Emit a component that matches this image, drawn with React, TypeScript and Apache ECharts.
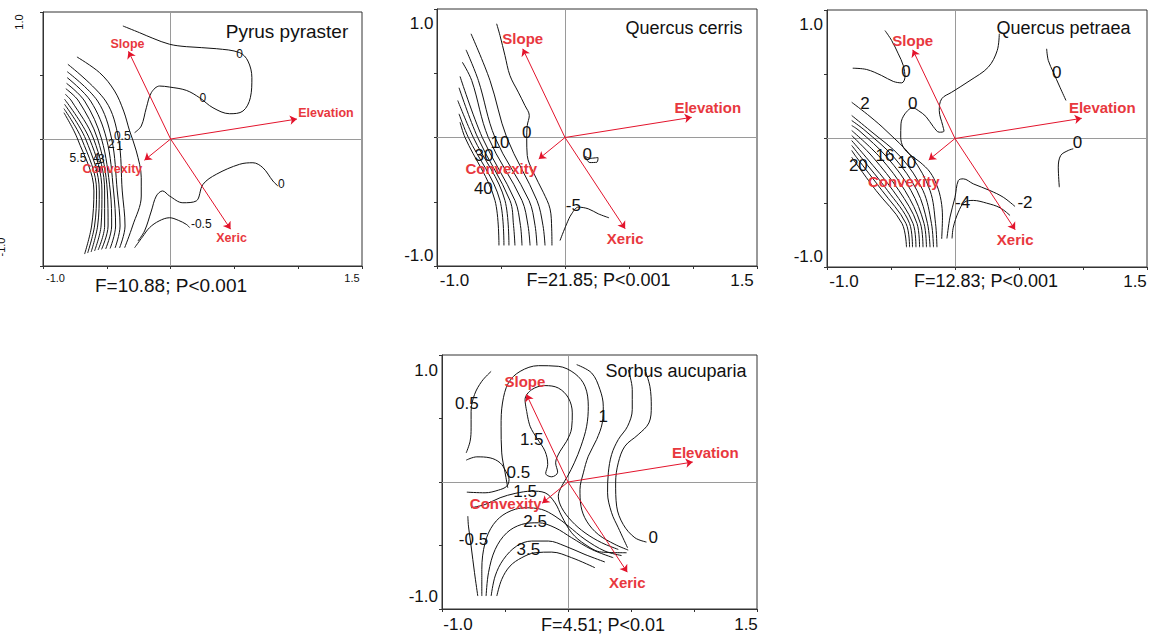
import React, { useEffect, useRef } from 'react';
import * as echarts from 'echarts';

type Pt = [number, number];
type Level = { text: string; x: number; y: number };

const FONT = '"Liberation Sans", Arial, Helvetica, sans-serif';
const X_MIN = -1.0;
const X_MAX = 1.5;
const Y_MIN = -1.0;
const Y_MAX = 1.0;
const TICK_STEP = 0.5;
const X_TICK_LABELS = ['-1.0', '1.5'];
const Y_TICK_LABELS = ['1.0', '-1.0'];

const ARROWS = [
  { name: 'Slope', x: -0.33, y: 0.69 },
  { name: 'Elevation', x: 0.99, y: 0.157 },
  { name: 'Convexity', x: -0.205, y: -0.167 },
  { name: 'Xeric', x: 0.47, y: -0.71 },
];

const SPECIES = ['Pyrus pyraster', 'Quercus cerris', 'Quercus petraea', 'Sorbus aucuparia'];
const STATS = ['F=10.88; P<0.001', 'F=21.85; P<0.001', 'F=12.83; P<0.001', 'F=4.51; P<0.01'];

// ---------- Pyrus pyraster ----------
const PYRUS_CONTOURS: Pt[][] = [
  [[-0.374, 0.89], [-0.243, 0.837], [-0.139, 0.793], [-0.008, 0.746], [0.123, 0.727], [0.358, 0.711], [0.541, 0.68], [0.606, 0.614], [0.637, 0.483], [0.625, 0.325], [0.567, 0.22], [0.462, 0.199], [0.332, 0.246], [0.227, 0.325], [0.123, 0.383], [-0.008, 0.409], [-0.086, 0.417], [-0.151, 0.365], [-0.19, 0.246], [-0.23, 0.102], [-0.282, 0.05]],
  [[-0.256, -0.803], [-0.204, -0.724], [-0.151, -0.567], [-0.112, -0.449], [-0.063, -0.409], [-0.008, -0.449], [0.096, -0.502], [0.201, -0.488], [0.254, -0.357], [0.358, -0.278], [0.541, -0.199], [0.645, -0.187], [0.723, -0.226], [0.802, -0.331], [0.841, -0.37]],
  [[-0.282, -0.856], [-0.22, -0.77], [-0.165, -0.698], [-0.09, -0.645], [-0.008, -0.62], [0.06, -0.64], [0.123, -0.672], [0.15, -0.698]],
  [[-0.734, 0.646], [-0.556, 0.522], [-0.439, 0.378], [-0.368, 0.22], [-0.321, 0.063], [-0.269, -0.094], [-0.23, -0.305], [-0.23, -0.449], [-0.298, -0.685], [-0.36, -0.856]],
  [[-0.805, 0.588], [-0.509, 0.299], [-0.408, 0], [-0.379, -0.409], [-0.357, -0.685], [-0.4, -0.858]],
  [[-0.81, 0.53], [-0.572, 0.299], [-0.462, 0], [-0.418, -0.409], [-0.396, -0.685], [-0.435, -0.858]],
  [[-0.81, 0.483], [-0.627, 0.299], [-0.502, 0], [-0.447, -0.409], [-0.431, -0.685], [-0.474, -0.862]],
  [[-0.815, 0.438], [-0.674, 0.299], [-0.541, 0], [-0.473, -0.409], [-0.462, -0.685], [-0.509, -0.866]],
  [[-0.821, 0.396], [-0.721, 0.299], [-0.572, 0], [-0.496, -0.409], [-0.49, -0.685], [-0.541, -0.869]],
  [[-0.825, 0.352], [-0.776, 0.299], [-0.603, 0], [-0.517, -0.409], [-0.517, -0.685], [-0.568, -0.874]],
  [[-0.831, 0.313], [-0.635, 0], [-0.538, -0.409], [-0.545, -0.685], [-0.596, -0.882]],
  [[-0.831, 0.273], [-0.666, 0], [-0.559, -0.409], [-0.572, -0.685], [-0.623, -0.89]],
  [[-0.836, 0.239], [-0.697, 0], [-0.58, -0.409], [-0.596, -0.685], [-0.65, -0.898]],
  [[-0.836, 0.207], [-0.729, 0], [-0.601, -0.409], [-0.619, -0.685], [-0.674, -0.906]],
];
const PYRUS_LEVELS: Level[] = [
  { text: '0', x: 0.541, y: 0.667 },
  { text: '0', x: 0.253, y: 0.32 },
  { text: '0', x: 0.867, y: -0.352 },
  { text: '-0.5', x: 0.24, y: -0.672 },
  { text: '0.5', x: -0.379, y: 0.024 },
  { text: '2', x: -0.465, y: -0.042 },
  { text: '1', x: -0.4, y: -0.055 },
  { text: '5.5', x: -0.726, y: -0.147 },
  { text: '4', x: -0.582, y: -0.147 },
  { text: '3', x: -0.543, y: -0.16 },
  { text: '5', x: -0.57, y: -0.226 },
];

// ---------- Quercus cerris ----------
const CERRIS_CONTOURS: Pt[][] = [
  [[-0.534, 0.885], [-0.508, 0.794], [-0.469, 0.638], [-0.43, 0.482], [-0.365, 0.353], [-0.313, 0.249], [-0.279, 0.171], [-0.295, 0.093], [-0.299, -0.01], [-0.295, -0.14], [-0.248, -0.27], [-0.17, -0.426], [-0.117, -0.555], [-0.104, -0.711], [-0.102, -0.84]],
  [[-0.734, 0.807], [-0.586, 0.444], [-0.455, 0], [-0.219, -0.49], [-0.172, -0.685], [-0.156, -0.84]],
  [[-0.773, 0.682], [-0.677, 0.444], [-0.547, 0], [-0.281, -0.49], [-0.234, -0.685], [-0.219, -0.84]],
  [[-0.802, 0.586], [-0.729, 0.444], [-0.599, 0], [-0.336, -0.49], [-0.289, -0.685], [-0.273, -0.84]],
  [[-0.82, 0.475], [-0.646, 0], [-0.391, -0.49], [-0.348, -0.685], [-0.336, -0.84]],
  [[-0.828, 0.387], [-0.682, 0], [-0.43, -0.49], [-0.402, -0.685], [-0.391, -0.84]],
  [[-0.838, 0.288], [-0.716, 0], [-0.469, -0.49], [-0.438, -0.84]],
  [[-0.828, 0.184], [-0.755, 0], [-0.508, -0.49], [-0.477, -0.84]],
  [[-0.82, 0.119], [-0.781, 0], [-0.547, -0.49], [-0.516, -0.84]],
  [[0.195, -0.163], [0.258, -0.156], [0.25, -0.192], [0.195, -0.195], [0.156, -0.148], [0.195, -0.163]],
  [[-0.039, -0.802], [0.013, -0.672], [0.052, -0.594], [0.104, -0.542], [0.182, -0.555], [0.26, -0.594], [0.344, -0.625]],
];
const CERRIS_LEVELS: Level[] = [
  { text: '0', x: -0.299, y: 0.041 },
  { text: '10', x: -0.508, y: -0.036 },
  { text: '30', x: -0.633, y: -0.14 },
  { text: '40', x: -0.638, y: -0.4 },
  { text: '0', x: 0.174, y: -0.132 },
  { text: '-5', x: 0.065, y: -0.529 },
];

// ---------- Quercus petraea ----------
const PETRAEA_CONTOURS: Pt[][] = [
  [[-0.799, 0.547], [-0.69, 0.537], [-0.573, 0.49], [-0.482, 0.444], [-0.416, 0.433], [-0.391, 0.477], [-0.404, 0.568], [-0.443, 0.659], [-0.495, 0.763], [-0.547, 0.84]],
  [[0.346, 0.815], [0.33, 0.685], [0.26, 0.555], [0.117, 0.451], [-0.026, 0.36], [-0.104, 0.309], [-0.123, 0.218], [-0.096, 0.101], [-0.086, 0.057], [-0.123, 0.049], [-0.17, 0.093], [-0.227, 0.171], [-0.287, 0.218], [-0.33, 0.239], [-0.391, 0.192], [-0.422, 0.114], [-0.424, 0.01], [-0.404, -0.068], [-0.352, -0.125], [-0.273, -0.184], [-0.195, -0.262], [-0.141, -0.366], [-0.109, -0.482], [-0.098, -0.612], [-0.104, -0.781]],
  [[0.716, 0.698], [0.729, 0.607], [0.768, 0.516], [0.82, 0.399], [0.867, 0.296]],
  [[0.815, -0.379], [0.807, -0.223], [0.826, -0.132], [0.885, -0.093], [0.924, -0.08]],
  [[-0.063, -0.778], [-0.039, -0.612], [0, -0.457], [0.026, -0.327], [0.065, -0.314], [0.143, -0.353], [0.273, -0.405], [0.377, -0.457], [0.469, -0.529]],
  [[-0.023, -0.778], [-0.013, -0.69], [0.026, -0.573], [0.073, -0.496], [0.143, -0.482], [0.247, -0.503], [0.352, -0.539], [0.43, -0.599]],
  [[-0.807, 0.282], [-0.664, 0.171], [-0.539, 0.062], [-0.336, -0.146], [-0.195, -0.405], [-0.152, -0.661], [-0.141, -0.846]],
  [[-0.807, 0.179], [-0.664, 0.062], [-0.422, -0.146], [-0.25, -0.405], [-0.184, -0.661], [-0.168, -0.846]],
  [[-0.807, 0.14], [-0.703, 0.062], [-0.477, -0.146], [-0.297, -0.405], [-0.215, -0.661], [-0.195, -0.846]],
  [[-0.807, 0.101], [-0.75, 0.062], [-0.531, -0.146], [-0.344, -0.405], [-0.242, -0.661], [-0.223, -0.846]],
  [[-0.807, 0.062], [-0.586, -0.146], [-0.391, -0.405], [-0.27, -0.661], [-0.25, -0.846]],
  [[-0.807, 0.023], [-0.641, -0.146], [-0.438, -0.405], [-0.297, -0.661], [-0.277, -0.846]],
  [[-0.807, -0.016], [-0.695, -0.146], [-0.484, -0.405], [-0.328, -0.661], [-0.305, -0.846]],
  [[-0.807, -0.054], [-0.734, -0.146], [-0.527, -0.405], [-0.355, -0.661], [-0.332, -0.846]],
  [[-0.807, -0.093], [-0.77, -0.146], [-0.57, -0.405], [-0.383, -0.661], [-0.355, -0.846]],
  [[-0.807, -0.146], [-0.617, -0.405], [-0.414, -0.661], [-0.379, -0.846]],
];
const PETRAEA_LEVELS: Level[] = [
  { text: '0', x: -0.383, y: 0.521 },
  { text: '0', x: -0.33, y: 0.27 },
  { text: '0', x: 0.794, y: 0.516 },
  { text: '0', x: 0.956, y: -0.03 },
  { text: '2', x: -0.703, y: 0.27 },
  { text: '16', x: -0.547, y: -0.132 },
  { text: '10', x: -0.377, y: -0.184 },
  { text: '20', x: -0.755, y: -0.21 },
  { text: '-4', x: 0.06, y: -0.496 },
  { text: '-2', x: 0.547, y: -0.496 },
];

// ---------- Sorbus aucuparia ----------
const SORBUS_CONTOURS: Pt[][] = [
  [[-0.61, 0.871], [-0.684, 0.793], [-0.742, 0.688], [-0.769, 0.557], [-0.769, 0.426], [-0.777, 0.321], [-0.808, 0.229]],
  [[-0.808, 0.172], [-0.724, 0.198], [-0.618, 0.19], [-0.539, 0.151], [-0.494, 0.085], [-0.468, 0.02], [-0.486, -0.033], [-0.552, -0.064], [-0.658, -0.085], [-0.803, -0.08]],
  [[-0.328, 0.557], [-0.341, 0.649], [-0.288, 0.727], [-0.182, 0.759], [-0.077, 0.74], [0.003, 0.662], [0.034, 0.544], [0.029, 0.426], [-0.011, 0.321], [-0.063, 0.242], [-0.098, 0.151], [-0.082, 0.077], [-0.129, 0.041], [-0.177, 0.067], [-0.161, 0.138], [-0.182, 0.242], [-0.248, 0.347], [-0.301, 0.439], [-0.328, 0.557]],
  [[-0.478, -0.046], [-0.499, 0.072], [-0.526, 0.229], [-0.531, 0.439], [-0.52, 0.622], [-0.473, 0.78], [-0.38, 0.871], [-0.235, 0.916], [-0.077, 0.911], [0.055, 0.853], [0.135, 0.753], [0.161, 0.596], [0.148, 0.439], [0.103, 0.282], [0.05, 0.151], [-0.003, 0.046], [-0.05, -0.033], [-0.077, -0.111], [-0.05, -0.203], [0.029, -0.308], [0.135, -0.4], [0.267, -0.478], [0.399, -0.531]],
  [[0.069, 0.924], [0.188, 0.858], [0.254, 0.727], [0.28, 0.596], [0.272, 0.465], [0.227, 0.334], [0.161, 0.203], [0.122, 0.072], [0.095, -0.059], [0.103, -0.19], [0.148, -0.308], [0.24, -0.413], [0.372, -0.491], [0.478, -0.536]],
  [[0.478, 0.884], [0.51, 0.727], [0.51, 0.57], [0.473, 0.439], [0.399, 0.334], [0.346, 0.216], [0.32, 0.072], [0.314, -0.085], [0.346, -0.242], [0.399, -0.36], [0.473, -0.518]],
  [[0.61, 0.884], [0.65, 0.753], [0.661, 0.596], [0.642, 0.465], [0.557, 0.373], [0.452, 0.282], [0.399, 0.151], [0.378, -0.007], [0.386, -0.19], [0.438, -0.334], [0.531, -0.439], [0.623, -0.473]],
  [[-0.565, -0.898], [-0.526, -0.767], [-0.46, -0.662], [-0.367, -0.596], [-0.261, -0.557], [-0.129, -0.552], [0.029, -0.596], [0.214, -0.675]],
  [[-0.61, -0.898], [-0.578, -0.74], [-0.512, -0.609], [-0.407, -0.504], [-0.288, -0.465], [-0.156, -0.465], [-0.024, -0.504], [0.135, -0.571], [0.293, -0.63]],
  [[-0.65, -0.898], [-0.631, -0.714], [-0.578, -0.531], [-0.486, -0.4], [-0.367, -0.334], [-0.235, -0.321], [-0.103, -0.36], [0.029, -0.439], [0.188, -0.531], [0.359, -0.596]],
  [[-0.684, -0.898], [-0.684, -0.688], [-0.658, -0.478], [-0.592, -0.334], [-0.486, -0.242], [-0.341, -0.203], [-0.209, -0.216], [-0.103, -0.269], [0.003, -0.347], [0.135, -0.452], [0.293, -0.544], [0.425, -0.579]],
  [[-0.769, -0.203], [-0.658, -0.177], [-0.539, -0.124], [-0.42, -0.09], [-0.288, -0.072], [-0.182, -0.085], [-0.103, -0.164], [-0.05, -0.269], [0.029, -0.4], [0.135, -0.491], [0.267, -0.552], [0.465, -0.557]],
  [[-0.716, -0.898], [-0.742, -0.714], [-0.769, -0.504], [-0.79, -0.347], [-0.795, -0.269]],
];
const SORBUS_LEVELS: Level[] = [
  { text: '0.5', x: -0.803, y: 0.622 },
  { text: '1.5', x: -0.288, y: 0.334 },
  { text: '0.5', x: -0.394, y: 0.072 },
  { text: '1.5', x: -0.341, y: -0.072 },
  { text: '2.5', x: -0.261, y: -0.308 },
  { text: '3.5', x: -0.314, y: -0.531 },
  { text: '-0.5', x: -0.75, y: -0.452 },
  { text: '1', x: 0.28, y: 0.518 },
  { text: '0', x: 0.676, y: -0.439 },
];

// ---------- layout / style per panel ----------
const PANELS = [
  {
    box: [43, 12, 319, 254], contours: PYRUS_CONTOURS, levels: PYRUS_LEVELS, levelFont: 12,
    arrowFont: 12.5, arrowOffsets: [[-1, -7], [29, -6], [-32, 9], [1, 9]],
    title: [287, 31, 19], stat: [171, 285, 19], tickFont: 11,
    xTicks: [[55.5, 277.5], [352, 277.5]], yTicks: null as null | number[][],
  },
  {
    box: [437, 9, 320, 257], contours: CERRIS_CONTOURS, levels: CERRIS_LEVELS, levelFont: 17,
    arrowFont: 15, arrowOffsets: [[0, -10], [16, -10], [-37.5, 10], [0, 10]],
    title: [684, 27.5, 18], stat: [598.5, 280, 18], tickFont: 17,
    xTicks: [[454.5, 280], [742, 280]], yTicks: [[433.5, 23], [433.5, 255]],
  },
  {
    box: [827, 10, 320, 257], contours: PETRAEA_CONTOURS, levels: PETRAEA_LEVELS, levelFont: 17,
    arrowFont: 15, arrowOffsets: [[0, -9], [20.5, -10.5], [-25, 21.5], [0, 10]],
    title: [1063.5, 27.5, 18], stat: [986, 281, 18], tickFont: 17,
    xTicks: [[844, 281], [1135, 281]], yTicks: [[823, 24], [823, 256]],
  },
  {
    box: [442, 355, 315, 254], contours: SORBUS_CONTOURS, levels: SORBUS_LEVELS, levelFont: 17,
    arrowFont: 15, arrowOffsets: [[-1.5, -12.5], [12.5, -9.5], [-36.5, 0], [0, 10]],
    title: [676, 371, 18], stat: [603, 624.5, 18], tickFont: 17,
    xTicks: [[458, 624.5], [746, 624.5]], yTicks: [[438, 370], [438, 596.5]],
  },
];

const INK = '#111111';
const RED_LINE = '#e3142c';
const RED_TEXT = '#e8383e';
const FRAME = '#333333';

function text(x: number, y: number, s: string, size: number, align = 'center', extra: any = {}) {
  return {
    type: 'text', x, y, silent: true, z: 10, ...extra,
    style: { text: s, fontSize: size, fontFamily: FONT, fill: INK, textAlign: align, textVerticalAlign: 'middle' },
  };
}

// a custom series that writes a text at each data point (through the axes' scales)
function textSeries(i: number, pts: { x: number; y: number }[], labels: string[], style: any, offsets?: number[][], z = 5) {
  return {
    type: 'custom', coordinateSystem: 'cartesian2d', xAxisIndex: i, yAxisIndex: i, silent: true, z,
    data: pts.map((p) => [p.x, p.y]),
    renderItem: (params: any, api: any) => {
      const c = api.coord([api.value(0), api.value(1)]);
      const off = offsets ? offsets[params.dataIndex] : [0, 0];
      return {
        type: 'text',
        x: c[0] + off[0],
        y: c[1] + off[1],
        style: { text: labels[params.dataIndex], align: 'center', verticalAlign: 'middle', ...style },
      };
    },
  };
}

function buildOption() {
  const grid: any[] = [];
  const xAxis: any[] = [];
  const yAxis: any[] = [];
  const series: any[] = [];
  const graphic: any[] = [];

  PANELS.forEach((p, i) => {
    grid.push({
      left: p.box[0], top: p.box[1], width: p.box[2], height: p.box[3],
      show: true, borderColor: FRAME, borderWidth: 1, containLabel: false, outerBoundsMode: 'none',
    });
    const axisCommon = {
      type: 'value', gridIndex: i, interval: TICK_STEP,
      axisLine: { show: true, onZero: false, lineStyle: { color: FRAME, width: 1 } },
      axisTick: { show: true, inside: false, length: 3, lineStyle: { color: FRAME, width: 1 } },
      axisLabel: { show: false }, splitLine: { show: false },
    };
    xAxis.push({ ...axisCommon, min: X_MIN, max: X_MAX });
    yAxis.push({ ...axisCommon, min: Y_MIN, max: Y_MAX });

    series.push({
      type: 'lines', coordinateSystem: 'cartesian2d', xAxisIndex: i, yAxisIndex: i, silent: true, z: 1,
      symbol: 'none', lineStyle: { color: '#9a9a9a', width: 1, opacity: 1 },
      data: [{ coords: [[0, Y_MIN], [0, Y_MAX]] }, { coords: [[X_MIN, 0], [X_MAX, 0]] }],
    });
    p.contours.forEach((c) => {
      series.push({
        type: 'line', xAxisIndex: i, yAxisIndex: i, data: c, smooth: 0.35, symbol: 'none', showSymbol: false,
        silent: true, z: 2, color: INK, lineStyle: { color: INK, width: 1 },
      });
    });
    series.push(
      textSeries(i, p.levels, p.levels.map((l) => l.text), {
        fill: INK, fontSize: p.levelFont, fontFamily: FONT,
      }, undefined, 3),
    );
    series.push({
      type: 'lines', coordinateSystem: 'cartesian2d', xAxisIndex: i, yAxisIndex: i, silent: true, z: 4,
      symbol: ['none', 'arrow'], symbolSize: 7, lineStyle: { color: RED_LINE, width: 1, opacity: 1 },
      data: ARROWS.map((a) => ({ coords: [[0, 0], [a.x, a.y]] })),
    });
    series.push(
      textSeries(i, ARROWS, ARROWS.map((a) => a.name), {
        fill: RED_TEXT, fontSize: p.arrowFont, fontFamily: FONT, fontWeight: 'bold',
      }, p.arrowOffsets, 5),
    );

    graphic.push(text(p.title[0], p.title[1], SPECIES[i], p.title[2]));
    graphic.push(text(p.stat[0], p.stat[1], STATS[i], p.stat[2]));
    graphic.push(text(p.xTicks[0][0], p.xTicks[0][1], X_TICK_LABELS[0], p.tickFont));
    graphic.push(text(p.xTicks[1][0], p.xTicks[1][1], X_TICK_LABELS[1], p.tickFont));
    if (p.yTicks) {
      graphic.push(text(p.yTicks[0][0], p.yTicks[0][1], Y_TICK_LABELS[0], p.tickFont, 'right'));
      graphic.push(text(p.yTicks[1][0], p.yTicks[1][1], Y_TICK_LABELS[1], p.tickFont, 'right'));
    } else {
      graphic.push(text(19, 22, Y_TICK_LABELS[0], p.tickFont, 'center', { rotation: Math.PI / 2 }));
      graphic.push(text(1, 247, Y_TICK_LABELS[1], p.tickFont, 'center', { rotation: Math.PI / 2 }));
    }
  });

  return { animation: false, backgroundColor: '#ffffff', grid, xAxis, yAxis, series, graphic };
}

export default function App() {
  const ref = useRef<HTMLDivElement>(null);
  useEffect(() => {
    if (!ref.current) return;
    const chart = echarts.init(ref.current, undefined, { renderer: 'svg' });
    chart.setOption(buildOption() as any);
    return () => chart.dispose();
  }, []);
  return (
    <div
      ref={ref}
      style={{ position: 'absolute', left: 0, top: 0, width: 1151, height: 636, background: '#fff' }}
    />
  );
}
